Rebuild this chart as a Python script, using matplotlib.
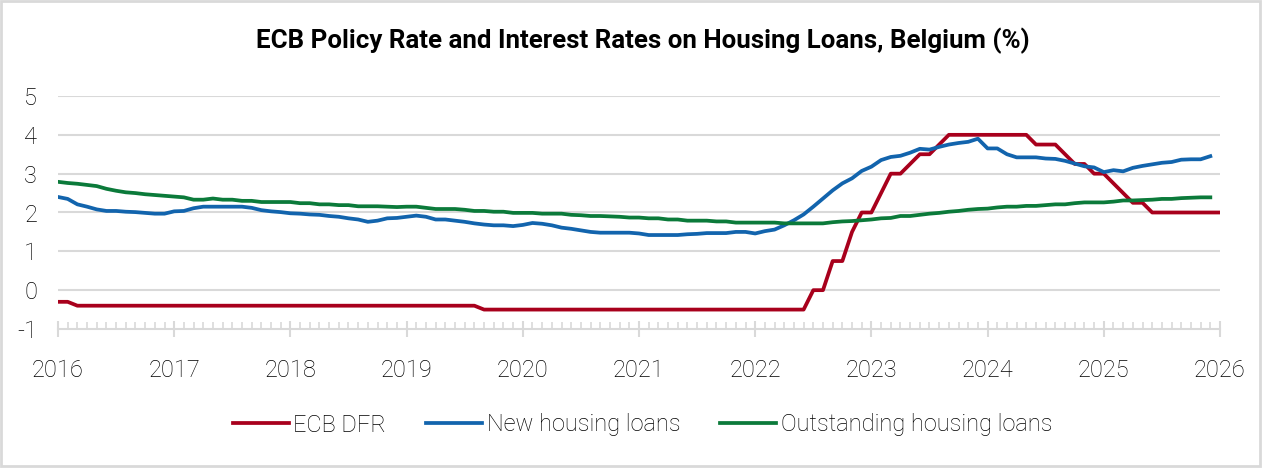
import matplotlib
matplotlib.use("Agg")
import matplotlib.pyplot as plt
from matplotlib.patches import Rectangle
from matplotlib.ticker import MultipleLocator
import numpy as np

plt.rcParams['font.family'] = ['Roboto', 'DejaVu Sans']
plt.rcParams['axes.unicode_minus'] = False

# monthly data, Jan 2016 onwards
ecb_dfr = ([-0.3, -0.3] + [-0.4] * 10 +
           [-0.4] * 24 +
           [-0.4] * 8 + [-0.5] * 4 +
           [-0.5] * 24 +
           [-0.5] * 6 + [0.0, 0.0, 0.75, 0.75, 1.5, 2.0] +
           [2.0, 2.5, 3.0, 3.0, 3.25, 3.5, 3.5, 3.75, 4.0, 4.0, 4.0, 4.0] +
           [4.0, 4.0, 4.0, 4.0, 4.0, 3.75, 3.75, 3.75, 3.5, 3.25, 3.25, 3.0] +
           [3.0, 2.75, 2.5, 2.25, 2.25, 2.0, 2.0, 2.0, 2.0, 2.0, 2.0, 2.0] +
           [2.0])

new_loans = [2.40, 2.35, 2.21, 2.15, 2.08, 2.04, 2.04, 2.02, 2.01, 1.99, 1.97, 1.97,
             2.03, 2.04, 2.11, 2.15, 2.15, 2.15, 2.15, 2.15, 2.12, 2.06, 2.03, 2.01,
             1.98, 1.97, 1.95, 1.94, 1.91, 1.89, 1.85, 1.82, 1.76, 1.79, 1.85, 1.86,
             1.89, 1.92, 1.89, 1.82, 1.82, 1.79, 1.76, 1.72, 1.69, 1.67, 1.67, 1.65,
             1.68, 1.73, 1.71, 1.67, 1.61, 1.58, 1.54, 1.50, 1.48, 1.48, 1.48, 1.48,
             1.46, 1.42, 1.42, 1.42, 1.42, 1.44, 1.45, 1.47, 1.47, 1.47, 1.50, 1.50,
             1.46, 1.52, 1.56, 1.67, 1.80, 1.95, 2.15, 2.36, 2.57, 2.75, 2.88, 3.07,
             3.18, 3.35, 3.43, 3.46, 3.54, 3.64, 3.62, 3.69, 3.75, 3.79, 3.82, 3.90,
             3.65, 3.65, 3.50, 3.42, 3.42, 3.42, 3.39, 3.38, 3.33, 3.26, 3.19, 3.16,
             3.04, 3.09, 3.06, 3.15, 3.20, 3.24, 3.28, 3.30, 3.36, 3.37, 3.37, 3.45]

outstanding_loans = [2.79, 2.76, 2.74, 2.71, 2.68, 2.61, 2.56, 2.52, 2.50, 2.47, 2.45, 2.43,
                     2.41, 2.39, 2.33, 2.33, 2.36, 2.33, 2.33, 2.30, 2.30, 2.27, 2.27, 2.27,
                     2.27, 2.24, 2.24, 2.21, 2.21, 2.19, 2.19, 2.16, 2.16, 2.16, 2.15, 2.14,
                     2.15, 2.15, 2.12, 2.09, 2.09, 2.09, 2.07, 2.04, 2.04, 2.02, 2.02, 1.99,
                     1.99, 1.99, 1.97, 1.97, 1.97, 1.94, 1.93, 1.91, 1.91, 1.90, 1.89, 1.87,
                     1.87, 1.85, 1.85, 1.82, 1.82, 1.79, 1.79, 1.79, 1.77, 1.77, 1.74, 1.74,
                     1.74, 1.74, 1.74, 1.72, 1.72, 1.72, 1.72, 1.72, 1.75, 1.77, 1.78, 1.80,
                     1.82, 1.85, 1.86, 1.91, 1.91, 1.94, 1.97, 1.99, 2.02, 2.04, 2.07, 2.09,
                     2.10, 2.13, 2.15, 2.15, 2.17, 2.17, 2.19, 2.21, 2.21, 2.24, 2.26, 2.26,
                     2.26, 2.28, 2.31, 2.31, 2.32, 2.33, 2.35, 2.35, 2.37, 2.38, 2.39, 2.39]

years = list(range(2016, 2027))

x_dfr = 2016 + np.arange(len(ecb_dfr)) / 12
x_new = 2016 + np.arange(len(new_loans)) / 12
x_out = 2016 + np.arange(len(outstanding_loans)) / 12

grid_col = '#d9d9d9'
red = '#a8001c'
blue = '#1264ad'
green = '#0b7a3a'

fig = plt.figure(figsize=(12.65, 4.7), dpi=100)
ax = fig.add_axes([58 / 1265, 1 - 329 / 470, 1162 / 1265, 233 / 470])

ax.plot(x_dfr, ecb_dfr, color=red, lw=2.7, label='ECB DFR', solid_joinstyle='round')
ax.plot(x_new, new_loans, color=blue, lw=2.7, label='New housing loans', solid_joinstyle='round')
ax.plot(x_out, outstanding_loans, color=green, lw=2.7, label='Outstanding housing loans',
        solid_joinstyle='round')

ax.set_xlim(2016, 2026)
ax.set_ylim(-1, 5)
ax.set_xticks(years)
ax.set_xticklabels([str(y) for y in years])
ax.xaxis.set_minor_locator(MultipleLocator(1 / 12))
ax.set_yticks(range(-1, 6))

for yv in range(0, 6):
    ax.axhline(yv, color=grid_col, lw=1.5, zorder=0)

for s in ['top', 'left', 'right']:
    ax.spines[s].set_visible(False)
ax.spines['bottom'].set_color(grid_col)
ax.spines['bottom'].set_linewidth(1.5)

ax.tick_params(axis='x', which='major', direction='inout', length=11.5, width=1.5,
               color=grid_col, pad=16, labelsize=17)
ax.tick_params(axis='x', which='minor', direction='in', length=5, width=1.2, color=grid_col)
ax.tick_params(axis='y', length=0, pad=15, labelsize=17)
for lbl in ax.get_xticklabels() + ax.get_yticklabels():
    lbl.set_fontweight('light')
    lbl.set_color('black')

fig.text(0.508, 1 - 41 / 470, 'ECB Policy Rate and Interest Rates on Housing Loans, Belgium (%)',
         ha='center', va='center', fontsize=18.6, fontweight='bold')

leg = fig.legend(loc='center', bbox_to_anchor=(0.508, 1 - 425 / 470), ncol=3, frameon=False,
                 handlelength=2.35, handletextpad=0.2, columnspacing=1.7,
                 prop={'weight': 'light', 'size': 17})
for t in leg.get_texts():
    t.set_color('black')

fig.patches.append(Rectangle((1 / 1265, 4 / 470), 1259 / 1265, 465 / 470, transform=fig.transFigure,
                             fill=False, edgecolor=grid_col, lw=2))

fig.savefig('out.png', dpi=100)
